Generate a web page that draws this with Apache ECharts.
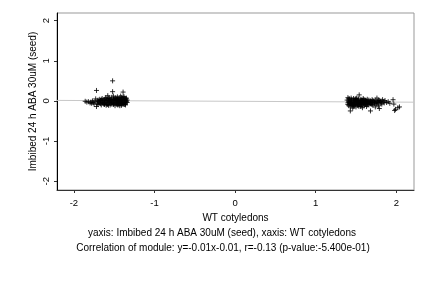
<!DOCTYPE html>
<html><head><meta charset="utf-8">
<script src="https://cdn.jsdelivr.net/npm/echarts@6/dist/echarts.min.js"></script>
<style>html,body{margin:0;padding:0;background:#fff}#c{width:432px;height:288px}</style>
</head><body><div id="c"></div>
<script>
// Cluster 1 (WT cotyledons ~ -1.6)
const cluster1X = [-1.86,-1.84,-1.82,-1.80,-1.79,-1.78,-1.77,-1.76,-1.75,-1.74,-1.73,-1.72,-1.72,-1.71,-1.70,-1.70,-1.69,-1.68,-1.67,-1.67,-1.66,-1.65,-1.65,-1.64,-1.63,-1.62,-1.62,-1.61,-1.60,-1.60,-1.59,-1.58,-1.58,-1.57,-1.56,-1.56,-1.55,-1.54,-1.54,-1.53,-1.52,-1.52,-1.52,-1.51,-1.51,-1.50,-1.49,-1.49,-1.48,-1.47,-1.47,-1.46,-1.46,-1.45,-1.45,-1.44,-1.44,-1.43,-1.43,-1.42,-1.42,-1.41,-1.41,-1.40,-1.40,-1.39,-1.39,-1.39,-1.38,-1.38,-1.37,-1.37,-1.36,-1.36,-1.35,-1.35,-1.34,-1.34,-1.62,-1.60,-1.58,-1.55,-1.53,-1.50,-1.48,-1.46,-1.44,-1.42,-1.40,-1.38,-1.36,-1.64,-1.66,-1.68,-1.57,-1.51,-1.47,-1.43,
  -1.63,-1.61,-1.59,-1.57,-1.55,-1.53,-1.51,-1.49,-1.47,-1.45,-1.43,-1.41,-1.39,-1.37,-1.35,-1.62,-1.59,-1.56,-1.53,-1.50,-1.47,-1.44,-1.41,-1.38,-1.35,-1.69,-1.71,-1.65,-1.58,-1.48,-1.45,-1.40,-1.37];
const cluster1Y = [-0.01,-0.03,-0.02,-0.05,-0.03,-0.06,0.00,-0.04,-0.08,-0.02,0.05,-0.14,0.26,-0.06,0.02,-0.09,-0.03,0.04,-0.07,0.01,-0.10,-0.04,0.06,0.00,-0.08,0.03,-0.05,0.08,-0.02,-0.11,0.05,0.13,-0.07,0.00,-0.04,0.07,-0.10,0.02,-0.06,0.09,0.50,0.23,-0.03,0.04,-0.09,0.00,-0.12,0.06,-0.05,0.03,-0.08,0.10,-0.01,-0.06,0.05,-0.10,0.01,0.08,-0.04,0.12,-0.07,0.03,-0.11,0.06,-0.02,0.22,0.09,-0.06,0.02,-0.09,0.07,-0.03,0.04,-0.07,0.00,0.05,-0.04,0.02,-0.09,0.05,0.02,0.04,-0.08,-0.06,0.08,-0.10,0.04,0.00,-0.08,0.11,-0.10,-0.06,0.03,-0.05,-0.11,0.12,0.00,-0.12,
  0.01,-0.04,-0.09,0.06,-0.02,0.03,-0.06,0.02,0.05,-0.08,0.01,-0.04,0.03,-0.09,-0.02,-0.07,0.00,0.01,-0.03,0.05,-0.04,-0.02,0.08,-0.05,0.07,-0.01,0.00,-0.02,-0.09,0.01,0.02,-0.04,0.01];
// Cluster 2 (WT cotyledons ~ +1.6)
const cluster2X = [1.39,1.40,1.40,1.41,1.41,1.42,1.42,1.43,1.43,1.43,1.44,1.44,1.45,1.45,1.46,1.46,1.47,1.47,1.48,1.48,1.49,1.49,1.50,1.50,1.51,1.51,1.52,1.52,1.53,1.53,1.54,1.54,1.55,1.55,1.56,1.56,1.57,1.57,1.58,1.58,1.59,1.59,1.60,1.60,1.61,1.61,1.62,1.62,1.63,1.63,1.64,1.64,1.65,1.66,1.66,1.67,1.68,1.68,1.69,1.70,1.70,1.71,1.72,1.73,1.74,1.74,1.75,1.76,1.76,1.77,1.78,1.79,1.79,1.80,1.81,1.82,1.83,1.84,1.85,1.86,1.88,1.90,1.92,1.96,1.97,1.98,1.99,2.02,2.04,1.42,1.45,1.48,1.51,1.54,1.57,1.60,1.63,1.66,1.69,1.44,1.47,1.50,1.53,1.56,
  1.40,1.41,1.43,1.44,1.46,1.47,1.49,1.50,1.52,1.53,1.55,1.56,1.58,1.59,1.61,1.62,1.64,1.65,1.67,1.68,1.70,1.71,1.73,1.75,1.77,1.78,1.80,1.82,1.41,1.44,1.47,1.50,1.53,1.56,1.59,1.62];
const cluster2Y = [0.02,-0.05,0.08,-0.12,0.00,-0.08,0.05,-0.25,-0.15,-0.02,0.07,-0.10,-0.04,0.03,-0.18,-0.07,0.06,0.00,-0.12,-0.05,0.04,-0.09,-0.02,-0.15,0.07,-0.06,-0.11,0.01,-0.04,0.05,0.15,-0.08,-0.01,-0.13,0.04,-0.06,-0.10,0.02,-0.03,-0.17,0.06,-0.07,-0.01,-0.12,0.03,-0.05,-0.09,0.01,-0.14,-0.03,0.04,-0.07,-0.01,-0.10,0.02,-0.05,-0.25,0.00,-0.08,0.03,-0.04,-0.11,-0.01,-0.06,0.02,-0.15,-0.03,0.07,-0.08,-0.01,-0.12,-0.19,0.01,-0.05,0.00,-0.08,0.03,-0.02,-0.05,0.01,-0.04,-0.02,-0.06,0.03,-0.08,-0.24,-0.21,-0.17,-0.15,-0.03,-0.11,0.02,-0.02,-0.04,-0.06,-0.08,0.00,-0.04,-0.02,-0.06,-0.09,0.03,-0.13,0.00,
  -0.09,-0.03,-0.06,0.00,-0.10,-0.03,-0.06,0.01,-0.08,-0.01,-0.05,-0.09,0.01,-0.04,-0.08,-0.02,-0.10,-0.06,-0.03,-0.07,-0.09,0.01,-0.03,-0.06,-0.04,0.02,-0.02,-0.05,0.05,0.02,-0.13,0.06,-0.09,-0.14,0.03,-0.06];
// Regression: y = slope*x + intercept
const slope = -0.01, intercept = -0.01;
const xTicks = [-2,-1,0,1,2];
const yTicks = [-2,-1,0,1,2];
const xRange = [-2.21, 2.22];
const yRange = [-2.22, 2.19];
const xTitle = 'WT cotyledons';
const yTitle = 'Imbibed 24 h ABA 30uM (seed)';
const subtitle1 = 'yaxis: Imbibed 24 h ABA 30uM (seed), xaxis: WT cotyledons';
const subtitle2 = 'Correlation of module: y=-0.01x-0.01, r=-0.13 (p-value:-5.400e-01)';

const pts = [];
cluster1X.forEach((x,i)=>pts.push([x, cluster1Y[i]]));
cluster2X.forEach((x,i)=>pts.push([x, cluster2Y[i]]));
const fitLine = xRange.map(x=>[x, slope*x+intercept]);

const font = 'Liberation Sans, Arial, sans-serif';
const chart = echarts.init(document.getElementById('c'), null, {renderer:'canvas'});
chart.setOption({
  animation:false,
  backgroundColor:'#fff',
  grid:{left:57,right:18,top:13,bottom:98,show:true,borderColor:'#999',borderWidth:1},
  xAxis:{type:'value',min:xRange[0],max:xRange[1],
    name:xTitle,nameLocation:'middle',nameGap:23,nameMoveOverlap:false,
    nameTextStyle:{fontFamily:font,fontSize:10,color:'#000'},
    axisLine:{show:true,onZero:false,lineStyle:{color:'#333',width:1}},
    axisTick:{show:true,length:3,customValues:xTicks,lineStyle:{color:'#333'}},
    axisLabel:{customValues:xTicks,margin:8,fontFamily:font,fontSize:9.5,color:'#000'},
    splitLine:{show:false}},
  yAxis:{type:'value',min:yRange[0],max:yRange[1],
    name:yTitle,nameLocation:'middle',nameGap:19,nameRotate:90,nameMoveOverlap:false,
    nameTextStyle:{fontFamily:font,fontSize:10,color:'#000'},
    axisLine:{show:true,onZero:false,lineStyle:{color:'#000',width:1}},
    axisTick:{show:true,length:3,customValues:yTicks,lineStyle:{color:'#333'}},
    axisLabel:{customValues:yTicks,rotate:90,margin:6,fontFamily:font,fontSize:9.5,color:'#000'},
    splitLine:{show:false}},
  series:[
    {type:'line',data:fitLine,symbol:'none',lineStyle:{color:'#c8c8c8',width:1},z:1,silent:true},
    {type:'scatter',data:pts,symbol:'path://M0,5L10,5M5,0L5,10',symbolSize:5,
      itemStyle:{color:'none',borderColor:'#000',borderWidth:1},z:2}
  ],
  graphic:[
    {type:'text',x:222,y:228,style:{text:subtitle1,font:'10px '+font,fill:'#000',textAlign:'center'}},
    {type:'text',x:223,y:243,style:{text:subtitle2,font:'10px '+font,fill:'#000',textAlign:'center'}}
  ]
});
</script></body></html>
